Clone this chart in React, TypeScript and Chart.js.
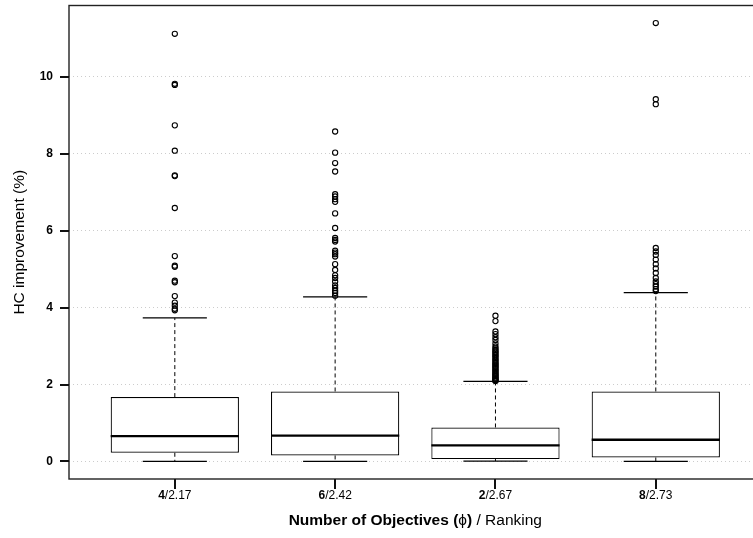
import React, { useEffect, useRef } from 'react';
import { Chart, registerables } from 'chart.js';

Chart.register(...registerables);

// ---- data ----
const objectives = ['4', '6', '2', '8'];
const rankings = ['2.17', '2.42', '2.67', '2.73'];
const positions = [1, 2, 3, 4];
const whiskerLow = [0.0, 0.0, 0.01, 0.0];
const q1 = [0.226, 0.156, 0.062, 0.104];
const median = [0.66, 0.67, 0.416, 0.564];
const q3 = [1.674, 1.82, 0.884, 1.82];
const whiskerHigh = [3.735, 4.28, 2.08, 4.39];
const outliers4 = [11.12, 9.82, 9.79, 8.74, 8.08, 7.44, 7.42, 6.59, 5.34, 5.09, 5.06, 4.7, 4.66, 4.3, 4.13, 4.05, 3.97, 3.93];
const outliers6 = [8.58, 8.03, 7.76, 7.54, 6.95, 6.89, 6.82, 6.75, 6.45, 6.07, 5.81, 5.76, 5.72, 5.48, 5.43, 5.39, 5.33, 5.13, 4.98, 4.84, 4.77, 4.68, 4.58, 4.51, 4.44, 4.38, 4.31];
const outliers2 = [3.79, 3.65, 3.38, 3.31, 3.23, 3.16, 3.07, 2.99, 2.94, 2.9, 2.86, 2.83, 2.79, 2.76, 2.72, 2.69, 2.65, 2.62, 2.58, 2.55, 2.52, 2.49, 2.46, 2.43, 2.4, 2.37, 2.34, 2.31, 2.28, 2.26, 2.23, 2.21, 2.18, 2.16, 2.14, 2.12, 2.1, 2.09];
const outliers8 = [11.4, 9.42, 9.29, 5.55, 5.46, 5.37, 5.25, 5.13, 5.02, 4.9, 4.77, 4.68, 4.61, 4.55, 4.48, 4.43];
const outlierGroups = [outliers4, outliers6, outliers2, outliers8];
const yMin = -0.456;
const yMax = 11.856;
const yTickValues = [0, 2, 4, 6, 8, 10];
const yTitle = 'HC improvement (%)';
const xTitleParts: [string, boolean][] = [
  ['Number of Objectives (', true],
  ['\u03D5', false],
  [')', true],
  [' / Ranking', false],
];

const FONT = '"Liberation Sans", Arial, Helvetica, sans-serif';
const CW = 770;
const CH = 538;

export default function App() {
  const ref = useRef<HTMLCanvasElement>(null);

  useEffect(() => {
    const canvas = ref.current;
    if (!canvas) return;

    const boxData = positions.map((x, i) => ({ x, y: [q1[i], q3[i]] }));
    const outlierData = outlierGroups.flatMap((arr, i) => arr.map((v) => ({ x: positions[i], y: v })));

    const boxParts = {
      id: 'boxParts',
      afterDatasetsDraw(chart: any) {
        const { ctx } = chart;
        const xs = chart.scales.x;
        const ys = chart.scales.y;
        const meta = chart.getDatasetMeta(0);
        positions.forEach((p, i) => {
          const bar: any = meta.data[i];
          const w = bar.width;
          const cx = xs.getPixelForValue(p);
          const yq1 = ys.getPixelForValue(q1[i]);
          const yq3 = ys.getPixelForValue(q3[i]);
          const yLo = ys.getPixelForValue(whiskerLow[i]);
          const yHi = ys.getPixelForValue(whiskerHigh[i]);
          const yMed = ys.getPixelForValue(median[i]);
          ctx.save();
          ctx.strokeStyle = '#000';
          ctx.lineWidth = 1;
          ctx.setLineDash([4, 3]);
          ctx.beginPath();
          ctx.moveTo(cx, yq3);
          ctx.lineTo(cx, yHi);
          ctx.moveTo(cx, yq1);
          ctx.lineTo(cx, yLo);
          ctx.stroke();
          ctx.setLineDash([]);
          ctx.lineWidth = 1.3;
          ctx.beginPath();
          ctx.moveTo(cx - w / 4, yHi);
          ctx.lineTo(cx + w / 4, yHi);
          ctx.moveTo(cx - w / 4, yLo);
          ctx.lineTo(cx + w / 4, yLo);
          ctx.stroke();
          ctx.lineWidth = 2.3;
          ctx.beginPath();
          ctx.moveTo(cx - w / 2, yMed);
          ctx.lineTo(cx + w / 2, yMed);
          ctx.stroke();
          ctx.restore();
        });
      },
    };

    const texts = {
      id: 'texts',
      afterDraw(chart: any) {
        const { ctx, chartArea } = chart;
        const xs = chart.scales.x;
        const ys = chart.scales.y;
        ctx.save();
        ctx.setLineDash([]);
        ctx.strokeStyle = '#222';
        ctx.lineWidth = 1.4;
        ctx.strokeRect(chartArea.left, chartArea.top, chartArea.right - chartArea.left, chartArea.bottom - chartArea.top);

        // tick marks
        ctx.fillStyle = '#111';
        positions.forEach((p) => {
          const px = Math.round(xs.getPixelForValue(p));
          ctx.fillRect(px - 1, chartArea.bottom, 2, 10);
        });
        yTickValues.forEach((v) => {
          const py = Math.round(ys.getPixelForValue(v));
          ctx.fillRect(chartArea.left - 9, py - 1, 9, 2);
        });

        ctx.fillStyle = '#000';
        ctx.textBaseline = 'middle';
        ctx.textAlign = 'left';
        positions.forEach((p, i) => {
          const cx = xs.getPixelForValue(p);
          ctx.font = `bold 12px ${FONT}`;
          const w1 = ctx.measureText(objectives[i]).width;
          ctx.font = `12px ${FONT}`;
          const rest = '/' + rankings[i];
          const w2 = ctx.measureText(rest).width;
          const sx = cx - (w1 + w2) / 2;
          ctx.font = `bold 12px ${FONT}`;
          ctx.fillText(objectives[i], sx, 496);
          ctx.font = `12px ${FONT}`;
          ctx.fillText(rest, sx + w1, 496);
        });

        // x title
        const size = 15.5;
        let total = 0;
        xTitleParts.forEach(([t, b]) => {
          ctx.font = `${b ? 'bold ' : ''}${size}px ${FONT}`;
          total += ctx.measureText(t).width;
        });
        let sx = (chartArea.left + chartArea.right) / 2 - total / 2;
        xTitleParts.forEach(([t, b]) => {
          ctx.font = `${b ? 'bold ' : ''}${size}px ${FONT}`;
          ctx.fillText(t, sx, 521);
          sx += ctx.measureText(t).width;
        });

        // y title
        ctx.translate(20, (chartArea.top + chartArea.bottom) / 2);
        ctx.rotate(-Math.PI / 2);
        ctx.textAlign = 'center';
        ctx.font = `15.5px ${FONT}`;
        ctx.fillText(yTitle, 0, 0);
        ctx.restore();
      },
    };

    const chart = new Chart(canvas, {
      type: 'bar',
      data: {
        datasets: [
          {
            type: 'bar',
            data: boxData as any,
            backgroundColor: '#ffffff',
            borderColor: '#000000',
            borderWidth: 1.2,
            borderSkipped: false,
            barPercentage: 0.8,
            categoryPercentage: 1.0,
          } as any,
          {
            type: 'scatter',
            data: outlierData,
            pointRadius: 2.6,
            pointHoverRadius: 2.6,
            pointBackgroundColor: 'rgba(0,0,0,0)',
            pointBorderColor: '#000',
            pointBorderWidth: 1.1,
          } as any,
        ],
      },
      options: {
        responsive: false,
        devicePixelRatio: 1,
        animation: false,
        layout: { padding: { left: 0, top: 5.5, right: 8.4, bottom: 0 } },
        plugins: { legend: { display: false }, tooltip: { enabled: false } },
        scales: {
          x: {
            type: 'linear',
            min: 0.34,
            max: 4.66,
            offset: false,
            afterFit: (s: any) => {
              s.height = 59;
              s.paddingLeft = 0;
              s.paddingRight = 0;
            },
            ticks: { display: false, stepSize: 1, includeBounds: false },
            grid: { display: false, offset: false },
            border: { display: false },
          },
          y: {
            type: 'linear',
            min: yMin,
            max: yMax,
            afterFit: (s: any) => {
              s.width = 69;
              s.paddingTop = 0;
              s.paddingBottom = 0;
            },
            afterBuildTicks: (s: any) => {
              s.ticks = yTickValues.map((v) => ({ value: v }));
            },
            ticks: {
              padding: 8,
              color: '#000',
              font: { family: FONT, size: 12, weight: 'bold' },
              callback: (v: any) => String(v),
            },
            grid: { color: '#cccccc', lineWidth: 1, drawTicks: true, tickLength: 8, tickColor: 'rgba(0,0,0,0)' },
            border: { display: false, dash: [1, 3] },
          },
        },
      } as any,
      plugins: [boxParts, texts],
    });

    return () => chart.destroy();
  }, []);

  return (
    <div style={{ position: 'absolute', left: 0, top: 0, width: 753, height: 538, overflow: 'hidden', background: '#fff' }}>
      <canvas ref={ref} width={CW} height={CH} style={{ display: 'block', width: CW, height: CH }} />
    </div>
  );
}
